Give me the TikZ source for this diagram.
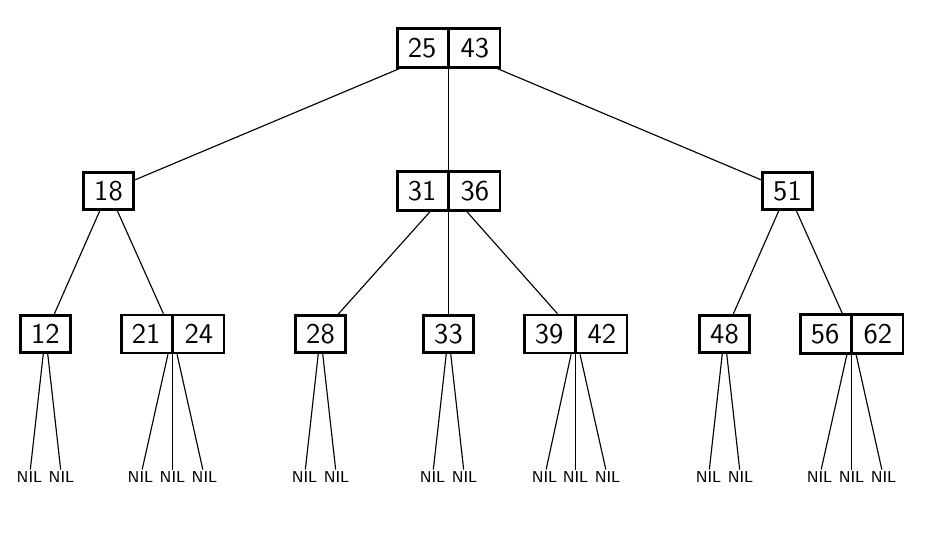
\documentclass[tikz,border=0pt]{standalone}
\usetikzlibrary{shapes.multipart}

\tikzset{
  key/.style={draw, line width=0.95pt, font=\sffamily\fontsize{10}{12}\selectfont,
    text width=10pt, align=center, inner xsep=3.75pt,
    text height=6.5pt, text depth=0pt, inner ysep=3.25pt},
  keys/.style={key, rectangle split, rectangle split parts=2, rectangle split horizontal},
  nil/.style={font=\sffamily\fontsize{5.5}{6}\selectfont, inner sep=0.5pt},
}

\begin{document}
\begin{tikzpicture}[x=0.35pt, y=-0.35pt]
                    \useasboundingbox (-0.5,0) rectangle (929.5,534);
                    % root
                    \node[keys] (n25) at (448,48) {25 \nodepart{two} 43};
                    % second level
                    \node[key]  (n18) at (108,191) {18};
                    \node[keys] (n31) at (448,191) {31 \nodepart{two} 36};
                    \node[key]  (n51) at (787,191) {51};
                    % leaves
                    \node[key]  (n12) at (45,334)  {12};
                    \node[keys] (n21) at (172,334) {21 \nodepart{two} 24};
                    \node[key]  (n28) at (320,334) {28};
                    \node[key]  (n33) at (448,334) {33};
                    \node[keys] (n39) at (575,334) {39 \nodepart{two} 42};
                    \node[key]  (n48) at (724,334) {48};
                    \node[keys] (n56) at (851,334) {56 \nodepart{two} 62};
                    \draw (n25) -- (n18);
                    \draw (n25) -- (n31);
                    \draw (n25) -- (n51);
                    \draw (n18) -- (n12);
                    \draw (n18) -- (n21);
                    \draw (n31) -- (n28);
                    \draw (n31) -- (n33);
                    \draw (n31) -- (n39);
                    \draw (n51) -- (n48);
                    \draw (n51) -- (n56);
                    % empty subtrees
                    \foreach \p/\x [count=\i] in {n12/29, n12/61, n21/140, n21/172, n21/204,
                        n28/304, n28/336, n33/432, n33/464, n39/544, n39/575, n39/607,
                        n48/708, n48/740, n56/819, n56/851, n56/883} {
                      \node[nil] (nil\i) at (\x,477) {NIL};
                      \draw (\p) -- (nil\i);
                    }
                \end{tikzpicture}
\end{document}
